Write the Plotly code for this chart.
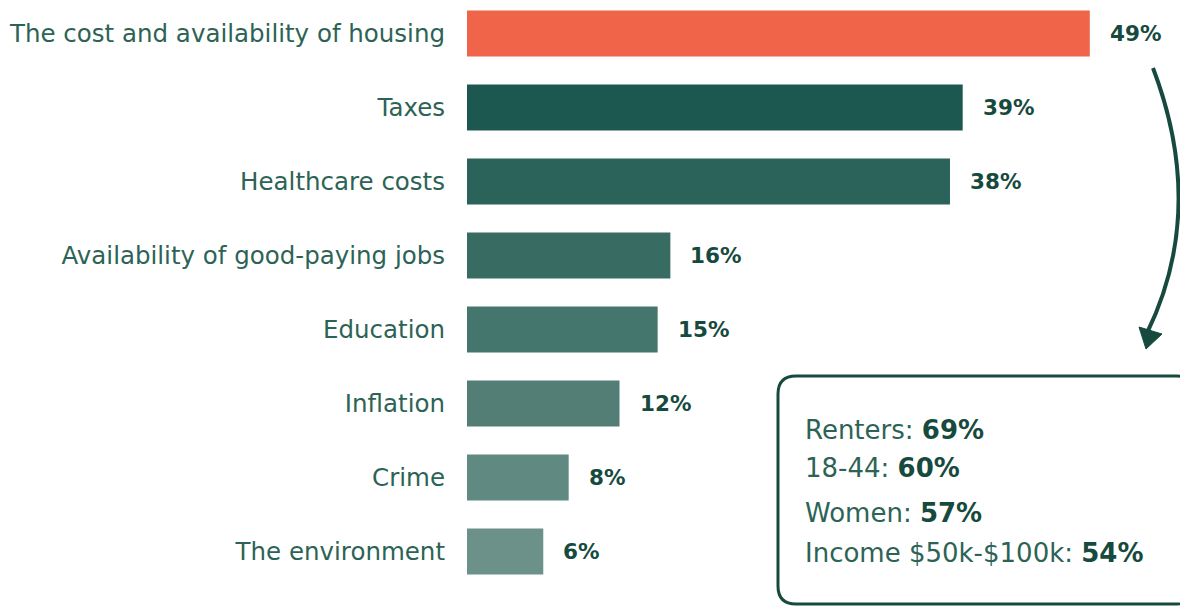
import plotly.graph_objects as go

# Survey results: share naming each issue
categories = [
    "The cost and availability of housing",
    "Taxes",
    "Healthcare costs",
    "Availability of good-paying jobs",
    "Education",
    "Inflation",
    "Crime",
    "The environment",
]
values = [49, 39, 38, 16, 15, 12, 8, 6]
bar_colors = ["#f0644a", "#1d5850", "#2b6259", "#386c63",
              "#44766e", "#527e76", "#5f8981", "#6b9189"]

# Breakdown for the housing item
breakdown_labels = ["Renters", "18-44", "Women", "Income $50k-$100k"]
breakdown_values = [69, 60, 57, 54]

W, H = 1180, 606
ML = 467
FONT = "DejaVu Sans"
LABEL_COLOR = "#2d6356"
DARK = "#174a3e"

fig = go.Figure(go.Bar(
    x=values, y=categories, orientation="h",
    marker=dict(color=bar_colors, line=dict(width=0)),
    width=0.62, hoverinfo="skip",
))

# value labels just right of each bar
for c, v in zip(categories, values):
    fig.add_annotation(x=v, y=c, xref="x", yref="y", text=f"<b>{v}%</b>",
                       showarrow=False, xanchor="left", xshift=18,
                       font=dict(family=FONT, size=21.5, color=DARK))


def px(x, y):
    # pixel position -> paper coordinates
    return (x - ML) / (W - ML), 1 - y / H


# curved arrow from the housing bar down to the breakdown box
x0, y0 = px(1153, 68)
cx, cy = px(1207, 210)
x1, y1 = px(1147, 333)
fig.add_shape(type="path", xref="paper", yref="paper",
              path=f"M {x0},{y0} Q {cx},{cy} {x1},{y1}",
              line=dict(color=DARK, width=4))
a, b, c = px(1139, 327), px(1162, 334), px(1146, 349)
fig.add_shape(type="path", xref="paper", yref="paper",
              path=f"M {a[0]},{a[1]} L {b[0]},{b[1]} L {c[0]},{c[1]} Z",
              fillcolor=DARK, line=dict(color=DARK, width=1))

# rounded box holding the breakdown
r = 18
L, T, R, B = 778, 376, 1195, 604


def P(x, y):
    return "%f,%f" % px(x, y)


box_path = (f"M {P(L + r, T)} L {P(R - r, T)} Q {P(R, T)} {P(R, T + r)} "
            f"L {P(R, B - r)} Q {P(R, B)} {P(R - r, B)} L {P(L + r, B)} "
            f"Q {P(L, B)} {P(L, B - r)} L {P(L, T + r)} Q {P(L, T)} {P(L + r, T)} Z")
fig.add_shape(type="path", xref="paper", yref="paper", path=box_path,
              line=dict(color=DARK, width=3), fillcolor="rgba(0,0,0,0)")

line_y = [430, 468, 513, 553]
for lab, v, yy in zip(breakdown_labels, breakdown_values, line_y):
    xp, yp = px(803, yy)
    fig.add_annotation(x=xp, y=yp, xref="paper", yref="paper",
                       text=f"{lab}: <b style='color:{DARK}'>{v}%</b>",
                       showarrow=False, xanchor="left", yanchor="middle",
                       font=dict(family=FONT, size=26, color=LABEL_COLOR))

units = H / 74.0
top = -33.5 / 74.0
fig.update_layout(
    width=W, height=H,
    margin=dict(l=ML, r=0, t=0, b=0),
    paper_bgcolor="white", plot_bgcolor="white",
    showlegend=False,
    xaxis=dict(range=[0, (W - ML) / 12.71], visible=False, fixedrange=True),
    yaxis=dict(categoryorder="array", categoryarray=categories,
               range=[top + units, top], showgrid=False, zeroline=False,
               showline=False, ticks="", ticklabelstandoff=21,
               tickfont=dict(family=FONT, size=24.5, color=LABEL_COLOR),
               fixedrange=True),
)

fig.write_html("out.html")
